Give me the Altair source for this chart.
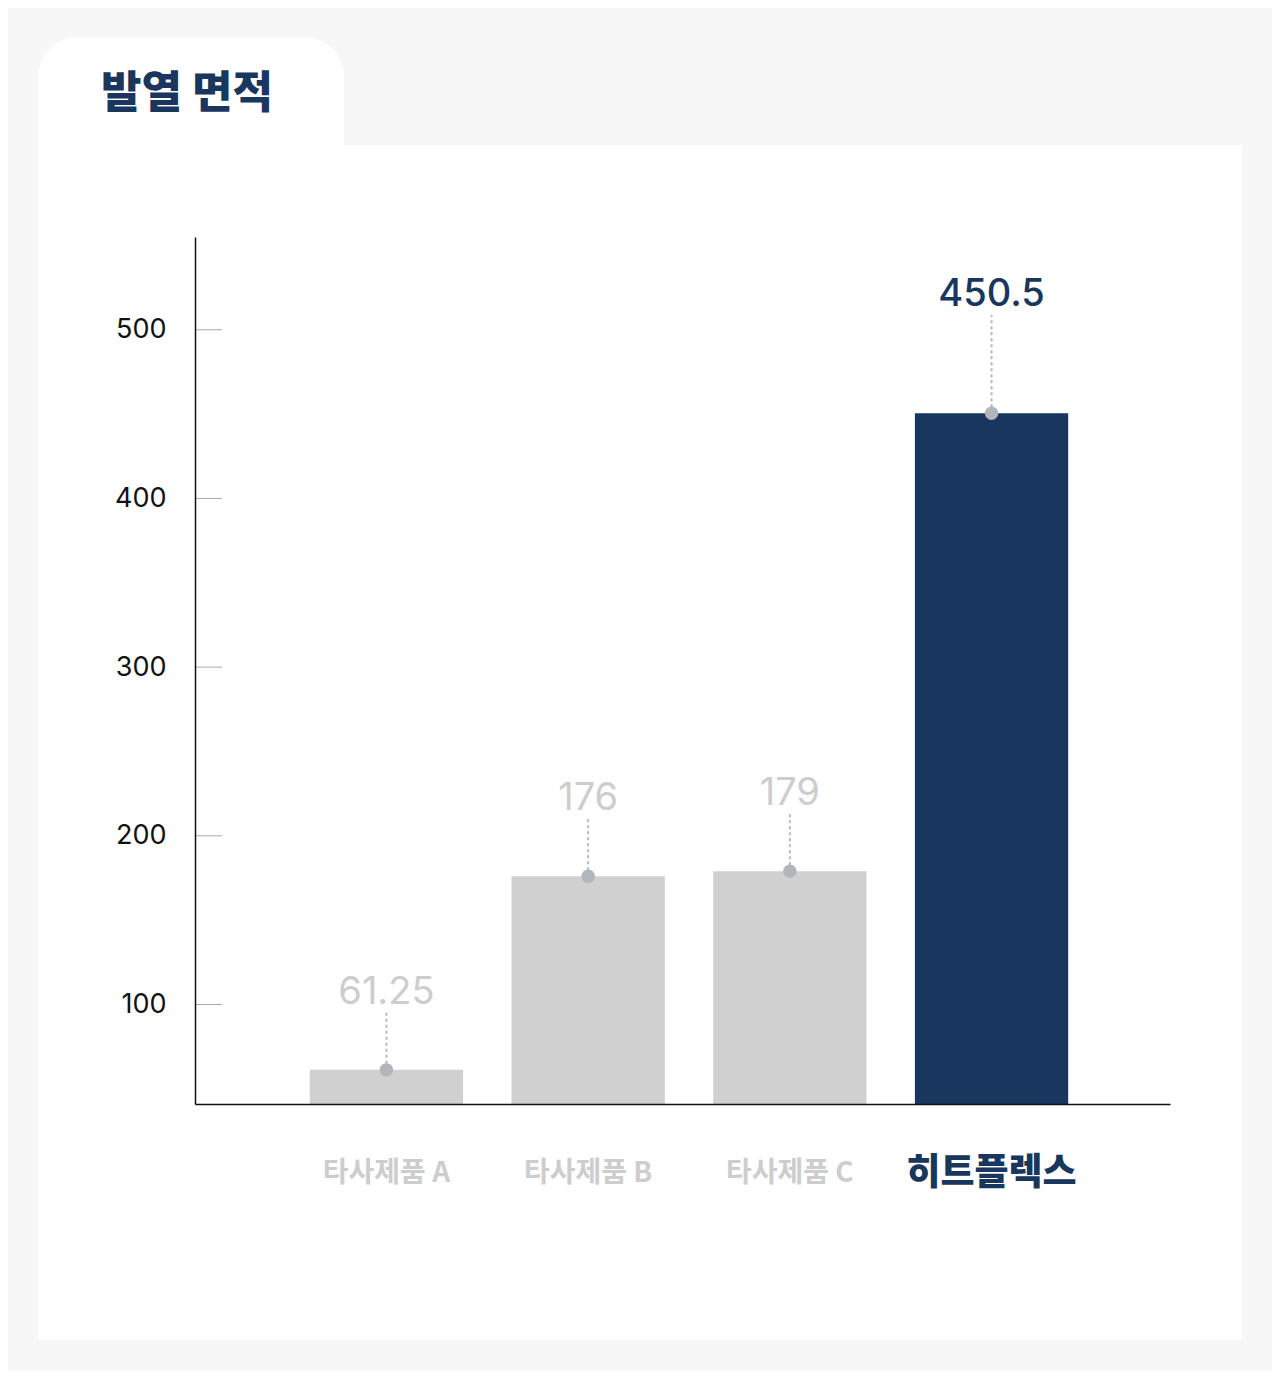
import altair as alt
import pandas as pd

# ---- data ----
products = ["타사제품 A", "타사제품 B", "타사제품 C", "히트플렉스"]
values = [61.25, 176, 179, 450.5]
labels = ["61.25", "176", "179", "450.5"]
highlight = "히트플렉스"
y_ticks = [100, 200, 300, 400, 500]
title_text = "발열 면적"

NAVY = "#18365e"
GRAY_BAR = "#d0d0d0"
GRAY_TXT = "#cdcdcd"
DOT = "#b1b5bc"

df = pd.DataFrame({"product": products, "value": values, "label": labels})
tick_df = pd.DataFrame({"tick": y_ticks})
one = pd.DataFrame({"a": [0]})

W, H = 975, 867
is_hl = f"datum.product === '{highlight}'"

x_enc = alt.X(
    "product:N",
    sort=products,
    title=None,
    scale=alt.Scale(paddingInner=0.24, paddingOuter=0.537, align=0.53),
    axis=alt.Axis(
        domainColor="#111111",
        domainWidth=1.5,
        ticks=False,
        tickSize=0,
        labelAngle=0,
        labelPadding=69,
        labelBaseline="middle",
        labelFont="Noto Sans CJK KR",
        labelColor={"condition": {"test": f"datum.value === '{highlight}'", "value": NAVY}, "value": GRAY_TXT},
        labelFontSize={"condition": {"test": f"datum.value === '{highlight}'", "value": 37}, "value": 28},
        labelFontWeight={"condition": {"test": f"datum.value === '{highlight}'", "value": 800}, "value": 700},
        zindex=1,
    ),
)

yscale = alt.Scale(domain=[41, 555], zero=False, nice=False)
yaxis = alt.Axis(
    values=y_ticks,
    grid=False,
    ticks=False,
    tickSize=0,
    labelPadding=29,
    labelFont="Inter",
    labelFontSize=27,
    labelColor="#111111",
    domainColor="#111111",
    domainWidth=1.5,
    zindex=1,
)

# decorations: white panel and tab
panel = alt.Chart(one).mark_rect(color="white").encode(
    x=alt.value(-157), x2=alt.value(1047), y=alt.value(-92), y2=alt.value(1103)
)
tab = alt.Chart(one).mark_rect(
    color="white", cornerRadiusTopLeft=40, cornerRadiusTopRight=40
).encode(x=alt.value(-157), x2=alt.value(149), y=alt.value(-200), y2=alt.value(-40))
title = alt.Chart(one).mark_text(
    text=title_text, align="left", baseline="middle", font="Noto Sans CJK KR",
    fontSize=44, fontWeight=800, color=NAVY,
).encode(x=alt.value(-94), y=alt.value(-142))

ticks = alt.Chart(tick_df).mark_rule(color="#aaaaaa", strokeWidth=1).encode(
    y=alt.Y("tick:Q", scale=yscale, axis=yaxis, title=None),
    x=alt.value(0), x2=alt.value(27),
)

bars = alt.Chart(df).mark_bar(clip=True).encode(
    x=x_enc,
    y=alt.Y("value:Q", scale=yscale, axis=yaxis, title=None),
    y2=alt.datum(0),
    color=alt.condition(is_hl, alt.value(NAVY), alt.value(GRAY_BAR)),
)

base = alt.Chart(df).encode(x=x_enc, y=alt.Y("value:Q", scale=yscale, axis=yaxis, title=None))

stem_gray = base.transform_filter(f"!({is_hl})").mark_rule(
    color="#b5b8bd", strokeWidth=2, strokeDash=[3, 3], y2Offset=-60
).encode(y2=alt.Y2("value:Q"))
stem_hl = base.transform_filter(is_hl).mark_rule(
    color="#b5b8bd", strokeWidth=2, strokeDash=[3, 3], y2Offset=-98
).encode(y2=alt.Y2("value:Q"))

dots = base.mark_circle(size=180, opacity=1, color=DOT)

txt_gray = base.transform_filter(f"!({is_hl})").mark_text(
    dy=-77, baseline="middle", font="Inter", fontSize=38, fontWeight=400, color=GRAY_TXT
).encode(text="label:N")
txt_hl = base.transform_filter(is_hl).mark_text(
    dy=-118, baseline="middle", font="Inter", fontSize=38, fontWeight=500, color=NAVY
).encode(text="label:N")

chart = alt.layer(
    panel, tab, title, ticks, bars, stem_gray, stem_hl, dots, txt_gray, txt_hl
).properties(
    width=W,
    height=H,
    autosize=alt.AutoSizeParams(type="none"),
    padding={"left": 187, "top": 229, "right": 102, "bottom": 267},
    background="#f7f7f7",
).configure_view(stroke=None)

chart.save("out.html", embed_options={"renderer": "svg", "actions": False})
